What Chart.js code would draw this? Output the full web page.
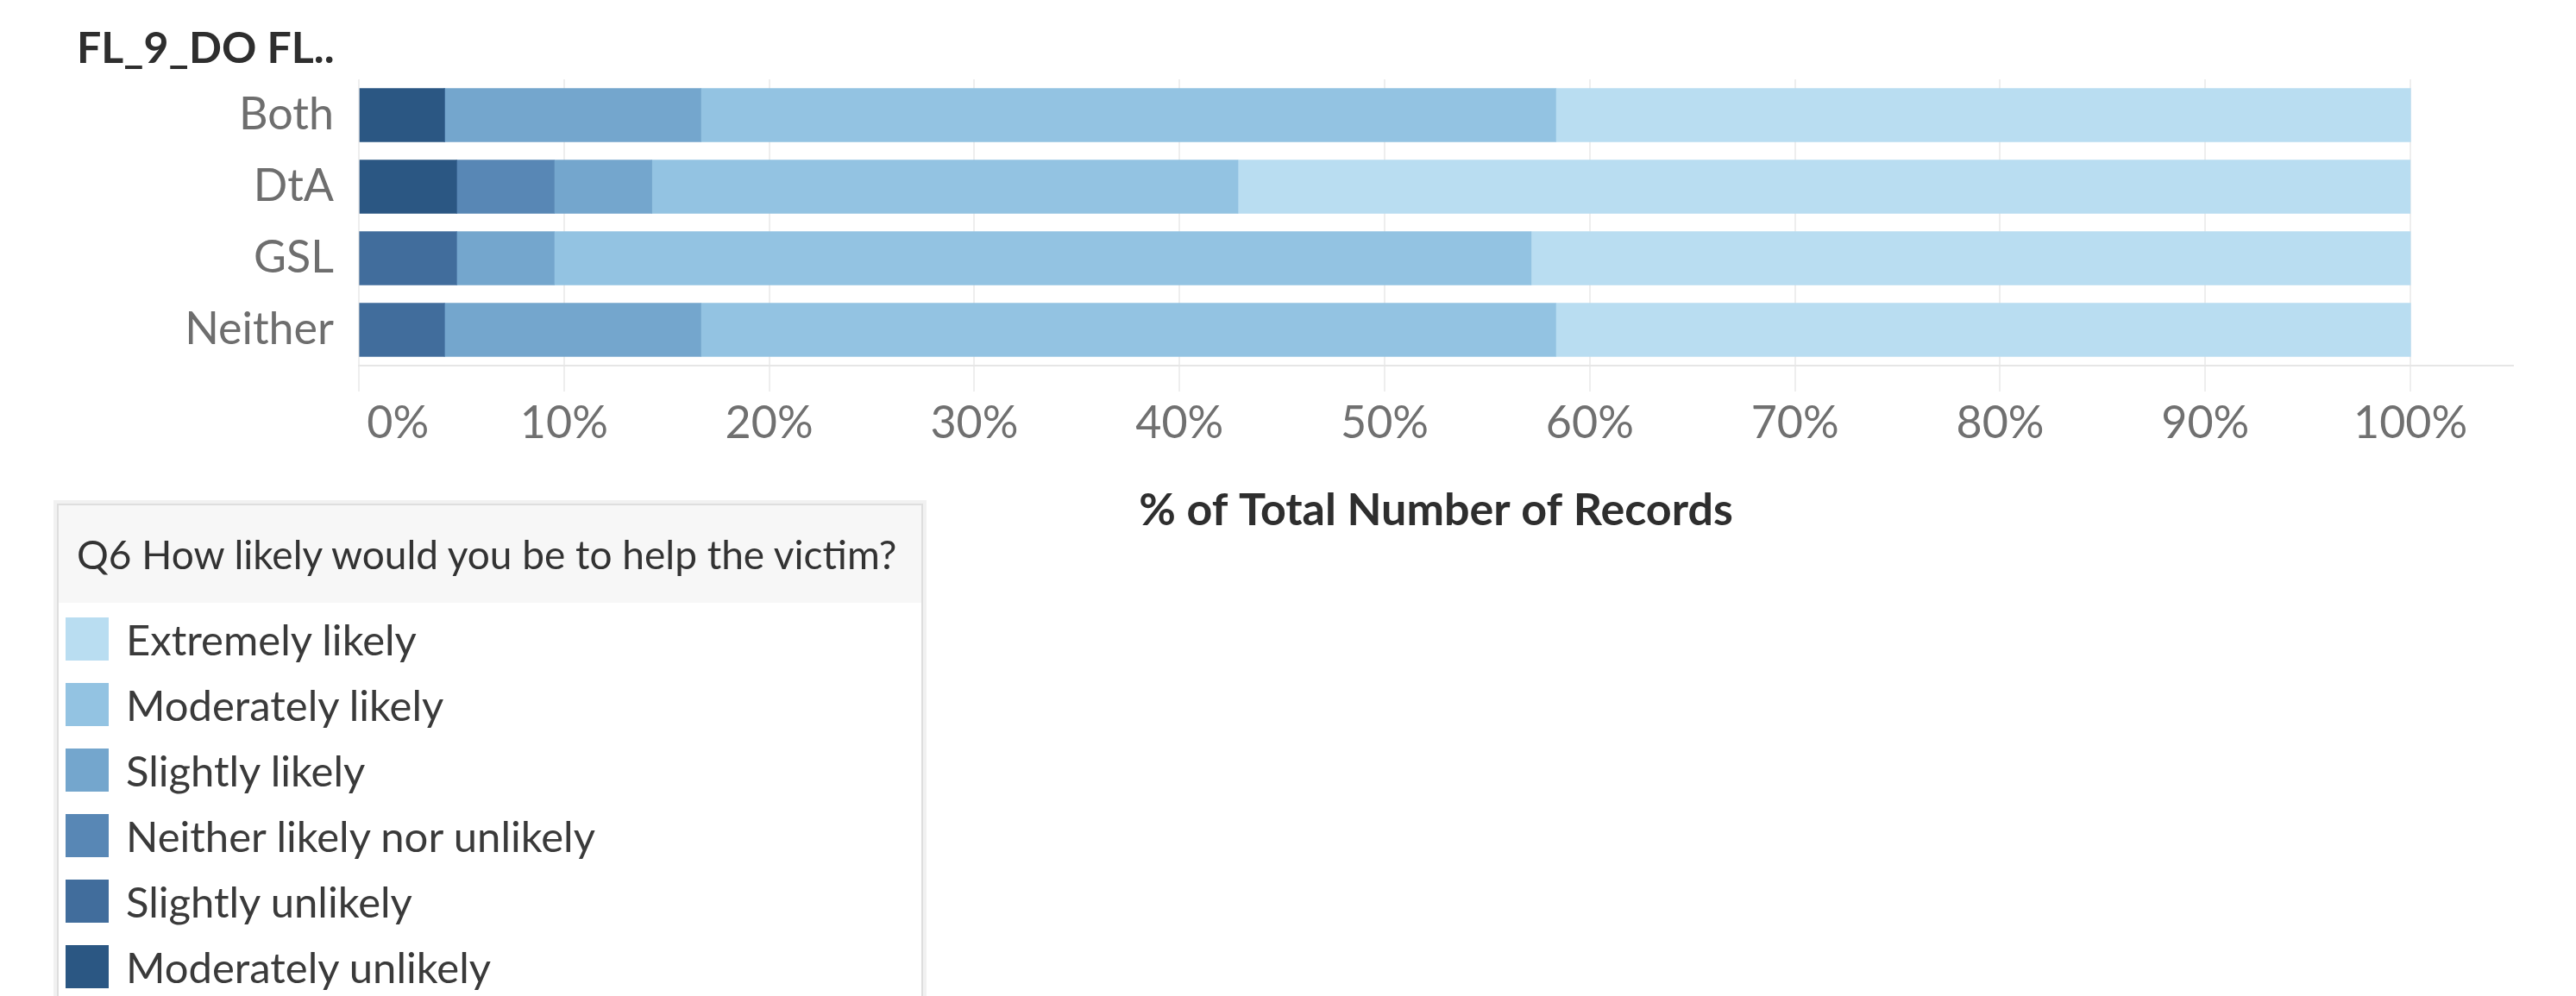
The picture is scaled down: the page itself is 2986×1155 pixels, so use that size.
<!DOCTYPE html>
<html>
<head>
<meta charset="utf-8">
<script src="https://cdn.jsdelivr.net/npm/chart.js@4"></script>
<style>
  html, body { margin: 0; padding: 0; background: #fff; }
  body { width: 2986px; height: 1155px; position: relative; overflow: hidden; font-family: Lato, "Open Sans", sans-serif; }
  #chartWrap { position: absolute; left: 0; top: 0; width: 2986px; height: 660px; }
  #legendBox {
    position: absolute; left: 66px; top: 584px; width: 1000px; height: 620px;
    border: 2px solid #dedede; box-shadow: 0 0 0 4px #f1f1f1; background: #fff;
  }
  #legendTitle {
    height: 113px; line-height: 113px; background: #f7f7f7;
    padding-left: 21px; font-size: 46px; color: #333; white-space: nowrap;
  }
  #legendItems { padding-top: 4px; }
  .legItem { height: 76px; display: flex; align-items: center; padding-left: 8px; }
  .legSwatch { width: 50px; height: 50px; margin-right: 20px; }
  .legLabel { font-size: 49px; color: #3a3a3a; white-space: nowrap; }
</style>
</head>
<body>
<div id="chartWrap"><canvas id="barCanvas" width="2986" height="660"></canvas></div>
<div id="legendBox">
  <div id="legendTitle">Q6 How likely would you be to help the victim?</div>
  <div id="legendItems"></div>
</div>
<script>
// categories (FL_9_DO) top to bottom
const groups = ['Both', 'DtA', 'GSL', 'Neither'];

// % of total records per answer, in the order Both, DtA, GSL, Neither
const modUnlikely = [4.17, 4.76, 0, 0];
const slightUnlikely = [0, 0, 4.76, 4.17];
const neitherLikely = [0, 4.76, 0, 0];
const slightLikely = [12.5, 4.76, 4.76, 12.5];
const modLikely = [41.67, 28.57, 47.62, 41.67];
const extLikely = [41.67, 57.14, 42.86, 41.67];

const answerNames = ['Moderately unlikely', 'Slightly unlikely', 'Neither likely nor unlikely',
  'Slightly likely', 'Moderately likely', 'Extremely likely'];
const answerColors = ['#2b5783', '#416d9c', '#5887b5', '#74a6cd', '#93c3e2', '#b9ddf1'];
const xTicks = [0, 10, 20, 30, 40, 50, 60, 70, 80, 90, 100];

const seriesValues = [modUnlikely, slightUnlikely, neitherLikely, slightLikely, modLikely, extLikely];

const fontFam = 'Lato, "Open Sans", sans-serif';

const datasets = seriesValues.map((vals, i) => ({
  label: answerNames[i],
  data: vals,
  backgroundColor: answerColors[i],
  borderWidth: 0,
  barThickness: 62
}));

const ctx = document.getElementById('barCanvas').getContext('2d');
const barChart = new Chart(ctx, {
  type: 'bar',
  data: { labels: groups, datasets: datasets },
  options: {
    indexAxis: 'y',
    responsive: false,
    animation: false,
    layout: { padding: { left: 89, right: 73, top: 0, bottom: 0 } },
    plugins: {
      legend: { display: false },
      tooltip: { enabled: false },
      title: {
        display: true,
        text: 'FL_9_DO FL..',
        align: 'start',
        color: '#2e2e2e',
        font: { family: fontFam, size: 50, weight: 'bold' },
        padding: { top: 27, bottom: 5 }
      }
    },
    scales: {
      x: {
        stacked: true,
        min: 0,
        max: 105,
        afterBuildTicks: axis => { axis.ticks = xTicks.map(v => ({ value: v })); },
        afterFit: axis => { axis.height = 236; },
        grid: { color: '#eeeeee', lineWidth: 2, tickLength: 30, drawTicks: true },
        border: { display: true, color: '#e6e6e6', width: 2 },
        ticks: {
          padding: 6,
          color: '#707070',
          font: { family: fontFam, size: 52 },
          // the first label sits inside the axis, as in the original
          callback: v => (v === 0 ? '\u2007\u2007\u2007' : '') + v + '%'
        },
        title: {
          display: true,
          text: '% of Total Number of Records',
          color: '#2e2e2e',
          font: { family: fontFam, size: 52, weight: 'bold' },
          padding: { top: 20, bottom: 37 }
        }
      },
      y: {
        stacked: true,
        afterFit: axis => { axis.width = 327; },
        grid: { display: false, drawTicks: false },
        border: { display: false },
        ticks: {
          padding: 29,
          color: '#6e6e6e',
          font: { family: fontFam, size: 52 }
        }
      }
    }
  }
});

// legend lists the answers lightest first, like the original
const legendItems = document.getElementById('legendItems');
barChart.data.datasets.slice().reverse().forEach(ds => {
  const row = document.createElement('div');
  row.className = 'legItem';
  const sw = document.createElement('div');
  sw.className = 'legSwatch';
  sw.style.background = ds.backgroundColor;
  const lab = document.createElement('div');
  lab.className = 'legLabel';
  lab.textContent = ds.label;
  row.appendChild(sw);
  row.appendChild(lab);
  legendItems.appendChild(row);
});
</script>
</body>
</html>
